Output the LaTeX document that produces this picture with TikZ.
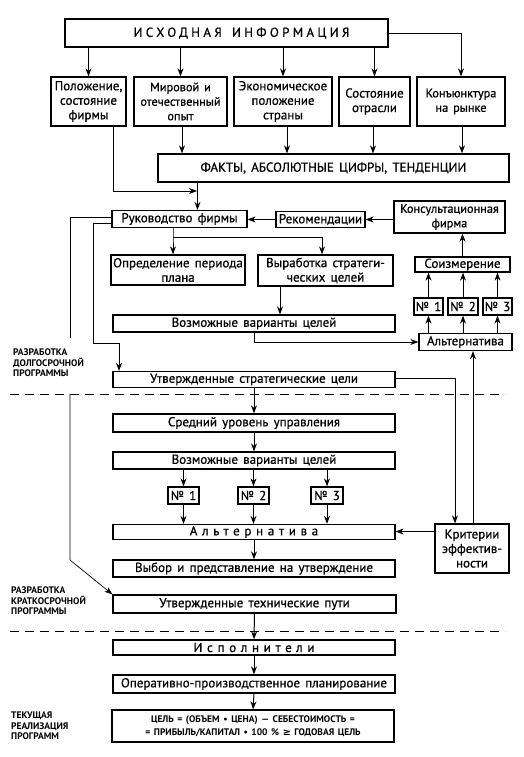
\documentclass[tikz,border=0pt]{standalone}
\usepackage{fontspec}
\setmainfont{PT Sans}[WordSpace=1.5, UprightFeatures={FakeBold=0.7}]
\newfontfamily\symf{DejaVu Sans}
\usetikzlibrary{arrows.meta}
\tikzset{
  box/.style={draw, line width=1.3pt, inner sep=0pt, align=center,
    font=\fontsize{13}{14.5}\selectfont},
  smallbox/.style={box, font=\fontsize{12.3}{14.5}\selectfont},
  lbl/.style={inner sep=0pt, align=left, anchor=north west,
    font=\fontsize{9.5}{10.5}\selectfont\bfseries},
  arr/.style={-{Stealth[length=8pt,width=6pt]}, line width=1pt},
  thin/.style={line width=0.7pt},
  dashline/.style={line width=1pt, dash pattern=on 9pt off 6pt}
}
\begin{document}
\begin{tikzpicture}[x=1pt,y=-1pt]
\useasboundingbox[fill=white] (0,0) rectangle (524,757);

% top level
\node[box, minimum width=323pt, minimum height=28pt] (src) at (226.5,33)
  {\hspace*{30pt}\addfontfeature{LetterSpace=26}ИСХОДНАЯ ИНФОРМАЦИЯ};
\node[box, minimum width=75pt, minimum height=49pt] (b1) at (88.5,101.5)
  {Положение,\\состояние\\фирмы};
\node[smallbox, minimum width=93pt, minimum height=49pt] (b2) at (180.5,101.5)
  {Мировой и\\отечественный\\опыт};
\node[box, minimum width=98pt, minimum height=49pt] (b3) at (283,101.5)
  {Экономическое\\положение\\страны};
\node[box, minimum width=71pt, minimum height=49pt] (b4) at (374.5,101.5)
  {Состояние\\отрасли};
\node[smallbox, minimum width=88pt, minimum height=49pt] (b5) at (461,101.5)
  {Конъюнктура\\на рынке};
\node[box, minimum width=351pt, minimum height=28pt] (facts) at (333.5,168)
  {ФАКТЫ, АБСОЛЮТНЫЕ ЦИФРЫ, ТЕНДЕНЦИИ};

% management level
\node[box, minimum width=135pt, minimum height=17pt] (ruk) at (179.5,219)
  {Руководство фирмы};
\node[box, minimum width=89pt, minimum height=16pt] (rek) at (320.5,219.5)
  {Рекомендации};
\node[smallbox, minimum width=111pt, minimum height=32pt] (kons) at (449.5,217)
  {Консультационная\\фирма};
\node[box, minimum width=134pt, minimum height=30pt] (opr) at (178,270)
  {Определение периода\\плана};
\node[box, minimum width=135pt, minimum height=31pt] (vyr) at (325.5,270.5)
  {Выработка стратеги-\\ческих целей};
\node[box, minimum width=95pt, minimum height=15pt] (soiz) at (462.5,264.5)
  {Соизмерение};
\node[box, minimum width=29pt, minimum height=17pt] (r1) at (428.5,306.5) {№ 1};
\node[box, minimum width=30pt, minimum height=17pt] (r2) at (463,306.5) {№ 2};
\node[box, minimum width=29pt, minimum height=17pt] (r3) at (497.5,306.5) {№ 3};
\node[box, minimum width=93pt, minimum height=17pt] (alt1) at (465.5,342)
  {Альтернатива};
\node[box, minimum width=282pt, minimum height=17pt] (voz1) at (254,323.5)
  {Возможные варианты целей};
\node[box, minimum width=282pt, minimum height=16pt] (utvs) at (254,379.5)
  {Утвержденные стратегические цели};

% middle level
\node[box, minimum width=282pt, minimum height=18pt] (sred) at (254,423)
  {Средний уровень управления};
\node[box, minimum width=282pt, minimum height=17pt] (voz2) at (254,460.5)
  {Возможные варианты целей};
\node[box, minimum width=31pt, minimum height=17pt] (n1) at (183.5,495.5) {№ 1};
\node[box, minimum width=31pt, minimum height=17pt] (n2) at (253.5,495.5) {№ 2};
\node[box, minimum width=32pt, minimum height=17pt] (n3) at (327,495.5) {№ 3};
\node[box, minimum width=282pt, minimum height=15pt] (alt2) at (254,532)
  {\addfontfeature{LetterSpace=36}Альтернатива};
\node[box, minimum width=74pt, minimum height=49pt] (krit) at (472,548.5)
  {Критерии\\эффектив-\\ности};
\node[box, minimum width=282pt, minimum height=17pt] (vyb) at (254,568.5)
  {Выбор и представление на утверждение};
\node[box, minimum width=283pt, minimum height=18pt] (utvt) at (254.5,604)
  {Утвержденные технические пути};

% execution level
\node[box, minimum width=282pt, minimum height=15pt] (isp) at (254,647.5)
  {\addfontfeature{LetterSpace=36}Исполнители};
\node[box, minimum width=282pt, minimum height=18pt] (oper) at (254,684)
  {Оперативно-производственное планирование};
\node[box, minimum width=282pt, minimum height=32pt,
  font=\fontsize{9.5}{13}\selectfont\bfseries] (form) at (253,726)
  {ЦЕЛЬ = (ОБЪЕМ • ЦЕНА) — СЕБЕСТОИМОСТЬ =\\
   = ПРИБЫЛЬ/КАПИТАЛ • 100 \% {\symf ≥} ГОДОВАЯ ЦЕЛЬ};

% side labels
\node[lbl] (lab1) at (13,349) {РАЗРАБОТКА\\ДОЛГОСРОЧНОЙ\\ПРОГРАММЫ};
\node[lbl] (lab2) at (11,587) {РАЗРАБОТКА\\КРАТКОСРОЧНОЙ\\ПРОГРАММЫ};
\node[lbl] (lab3) at (11,712) {ТЕКУЩАЯ\\РЕАЛИЗАЦИЯ\\ПРОГРАММ};

% dashed separators
\coordinate (d1a) at (10,394); \coordinate (d1b) at (505,394);
\coordinate (d2a) at (10,631); \coordinate (d2b) at (505,631);
\draw[dashline] (d1a) -- (d1b);
\draw[dashline] (d2a) -- (d2b);

% connectors top
\draw[arr] (src.south -| b1) -- (b1.north);
\draw[arr] (src.south -| b2) -- (b2.north);
\draw[arr] (src.south -| b3) -- (b3.north);
\draw[arr] (src.south -| b4) -- (b4.north);
\draw[arr, thin] (src.east) -| (b5.north);
\draw[arr] ([xshift=1.5pt]b2.south) -- ([xshift=1.5pt]b2.south |- facts.north);
\draw[arr] ([xshift=4pt]b3.south) -- ([xshift=4pt]b3.south |- facts.north);
\draw[arr, thin] ([xshift=-1.5pt]b4.south) -- ([xshift=-1.5pt]b4.south |- facts.north);
\draw[arr] ([xshift=1pt]b5.south) -- ([xshift=1pt]b5.south |- facts.north);
\coordinate (fx) at (197.5,182);
\draw[arr] (fx) -- (fx |- ruk.north);
\coordinate (j1) at (113,191);
\draw[arr, thin] (b1.south -| j1) -- (j1) -- (197,191);

% management connectors
\draw[arr, thin] (kons.west |- rek.east) -- (rek.east);
\draw[arr, thin] (rek.west) -- (rek.west -| ruk.east);
\coordinate (j2) at (173,237);
\draw[arr] (ruk.south -| j2) -- (j2) -- (j2 |- opr.north);
\coordinate (j3) at (322,237);
\draw[arr] (j2) -- (j3) -- (j3 |- vyr.north);
\draw[arr] (vyr.south -| 280,0) -- (voz1.north -| 280,0);
\coordinate (j4) at (254,342);
\draw[arr, thin] (voz1.south -| j4) -- (j4) -- (alt1.west);
\draw[arr] (alt1.north -| r1) -- (r1.south);
\draw[arr] (alt1.north -| r2) -- (r2.south);
\draw[arr] (alt1.north -| r3) -- (r3.south);
\draw[arr] (r1.north) -- (r1.north |- soiz.south);
\draw[arr] (r2.north) -- (r2.north |- soiz.south);
\draw[arr] (r3.north) -- (r3.north |- soiz.south);
\draw[arr, thin] (soiz.north) -- (soiz.north |- kons.south);

% long left connectors
\coordinate (k1) at (70,217.5);
\coordinate (k2) at (70,338);
\coordinate (k3) at (70,394);
\coordinate (k4) at (70,560);
\draw[thin] (ruk.west |- k1) -- (k1) -- (k2);
\draw[arr, thin] (k3) -- (k4) -- (utvt.north west);
\coordinate (m1) at (93,223);
\coordinate (m2) at (93,343);
\coordinate (m3) at (119,343);
\draw[arr, thin] (ruk.west |- m1) -- (m1) -- (m2) -- (m3) -- (m3 |- utvs.north);

% right side connectors
\coordinate (p1) at (455,378);
\draw[arr, thin] (utvs.east |- p1) -- (p1) -- (p1 |- krit.north);
\coordinate (p2) at (473,0);
\draw[arr, thin] (krit.north -| p2) -- (alt1.south -| p2);
\draw[arr, thin] (krit.west |- 0,531.5) -- (alt2.east |- 0,531.5);

% central column
\draw[arr] (utvs.south) -- (sred.north);
\draw[arr] (sred.south) -- (voz2.north);
\draw[arr] (voz2.south -| n1) -- (n1.north);
\draw[arr] (voz2.south -| n2) -- (n2.north);
\draw[arr] (voz2.south -| n3) -- (n3.north);
\draw[arr] (n1.south) -- (n1.south |- alt2.north);
\draw[arr] (n2.south) -- (n2.south |- alt2.north);
\draw[arr] (n3.south) -- (n3.south |- alt2.north);
\draw[arr] (alt2.south) -- (vyb.north);
\draw[arr] (utvt.south) -- (isp.north);
\draw[arr] (isp.south) -- (oper.north);
\draw[arr] (oper.south) -- (form.north);
\end{tikzpicture}
\end{document}
